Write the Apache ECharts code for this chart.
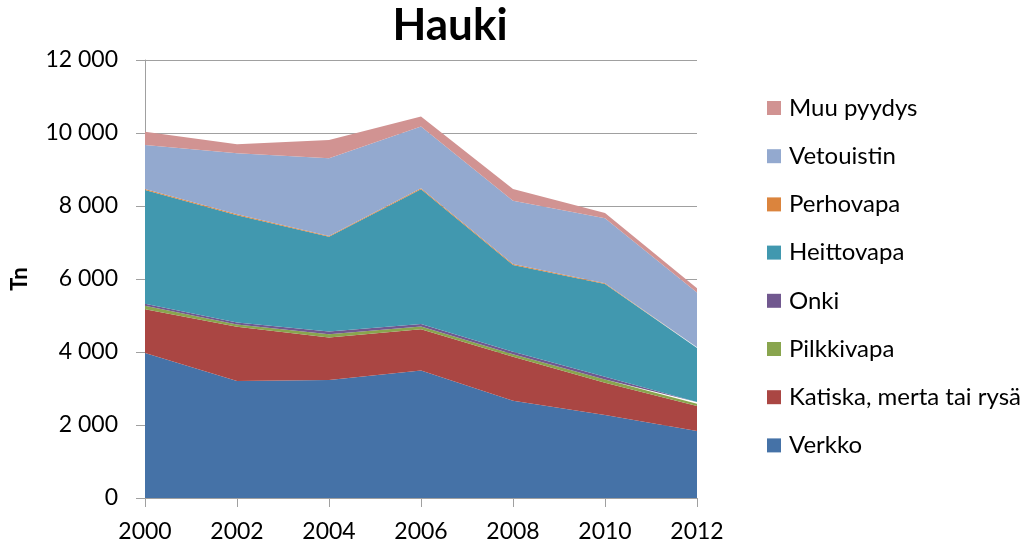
<!DOCTYPE html>
<html>
<head>
<meta charset="utf-8">
<script src="https://cdn.jsdelivr.net/npm/echarts@6/dist/echarts.min.js"></script>
<style>
  html, body { margin: 0; padding: 0; background: #fff; }
  #chart { width: 1031px; height: 545px; }
</style>
</head>
<body>
<div id="chart"></div>
<script>
// Hauen saalis pyydyksittäin (tonnia), pinottu aluekaavio
const years = ['2000', '2002', '2004', '2006', '2008', '2010', '2012'];

const verkko     = [3970, 3205, 3235, 3490, 2665, 2275, 1835];
const katiska    = [1200, 1490, 1160, 1130, 1205,  885,  685];
const pilkkivapa = [ 100,   60,   90,   80,   70,   90,   60];
const onki       = [  50,   50,   80,   70,   70,   70,   50];
const heittovapa = [3120, 2945, 2590, 3690, 2375, 2540, 1480];
const perhovapa  = [  25,   25,   25,   25,   25,   25,   20];
const vetouistin = [1205, 1670, 2130, 1690, 1735, 1780, 1500];
const muu        = [ 365,  245,  500,  275,  320,  140,  120];

const yTicks = [0, 2000, 4000, 6000, 8000, 10000, 12000];

const seriesDefs = [
  { name: 'Verkko', data: verkko, color: '#4572A7' },
  { name: 'Katiska, merta tai rysä', data: katiska, color: '#AA4643' },
  { name: 'Pilkkivapa', data: pilkkivapa, color: '#89A54E' },
  { name: 'Onki', data: onki, color: '#71588F' },
  { name: 'Heittovapa', data: heittovapa, color: '#4198AF' },
  { name: 'Perhovapa', data: perhovapa, color: '#DB843D' },
  { name: 'Vetouistin', data: vetouistin, color: '#93A9CF' },
  { name: 'Muu pyydys', data: muu, color: '#D19392' }
];

const font = 'Lato, "Open Sans", sans-serif';
const axisGray = '#a0a0a0';
const chart = echarts.init(document.getElementById('chart'), null, { renderer: 'canvas' });

// Legend entries listed top-down in the reverse of the stacking order
const legendItems = seriesDefs.slice().reverse();

chart.setOption({
  animation: false,
  backgroundColor: '#ffffff',
  color: seriesDefs.map(s => s.color),
  title: {
    text: 'Hauki',
    left: 450,
    top: 4,
    padding: 0,
    textAlign: 'center',
    textStyle: { fontFamily: font, fontSize: 44, fontWeight: 'bold', color: '#000' }
  },
  legend: legendItems.map((s, i) => ({
    data: [{ name: s.name, itemStyle: { color: s.color } }],
    left: 767,
    top: 96 + i * 48.2,
    padding: 0,
    icon: 'rect',
    itemWidth: 14,
    itemHeight: 14,
    itemGap: 8,
    textStyle: { fontFamily: font, fontSize: 24, lineHeight: 24, color: '#000', padding: [0, 0, 0, 3] }
  })),
  grid: { left: 145, right: 334, top: 60, bottom: 47, containLabel: false },
  xAxis: {
    type: 'category',
    data: years,
    boundaryGap: false,
    axisLine: { show: true, lineStyle: { color: axisGray, width: 1 } },
    axisTick: { show: true, alignWithLabel: true, length: 9, lineStyle: { color: axisGray } },
    axisLabel: { fontFamily: font, fontSize: 23, color: '#000', margin: 22 },
    splitLine: { show: false }
  },
  yAxis: {
    type: 'value',
    min: yTicks[0],
    max: yTicks[yTicks.length - 1],
    interval: 2000,
    name: 'Tn',
    nameLocation: 'middle',
    nameRotate: 90,
    nameGap: 114,
    nameTextStyle: { fontFamily: font, fontSize: 22, fontWeight: 'bold', color: '#000' },
    axisLine: { show: true, lineStyle: { color: axisGray, width: 1 } },
    axisTick: { show: true, length: 9, lineStyle: { color: axisGray } },
    axisLabel: {
      fontFamily: font, fontSize: 23, color: '#000', margin: 27,
      formatter: v => String(v).replace(/\B(?=(\d{3})+(?!\d))/g, ' ')
    },
    splitLine: { show: true, lineStyle: { color: axisGray, width: 1 } }
  },
  series: seriesDefs.map(s => ({
    name: s.name,
    type: 'line',
    stack: 'total',
    data: s.data,
    showSymbol: false,
    symbol: 'none',
    lineStyle: { width: 0 },
    itemStyle: { color: s.color },
    areaStyle: { color: s.color, opacity: 1 },
    z: 2
  }))
});
</script>
</body>
</html>
